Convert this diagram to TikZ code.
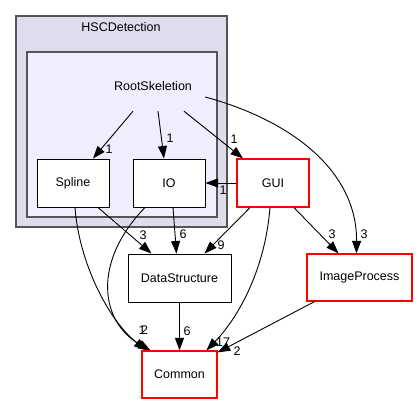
\documentclass[tikz,border=0pt]{standalone}
\usepackage{fontspec}
\setmainfont{Liberation Sans}
\usetikzlibrary{arrows.meta}
\definecolor{clouter}{HTML}{DDDDEE}
\definecolor{clinner}{HTML}{EEEEFF}
\definecolor{clborder}{HTML}{555555}
\begin{document}
\begin{tikzpicture}[x=1pt,y=-1pt,
  every node/.style={font=\fontsize{12.5pt}{14pt}\selectfont},
  dirbox/.style={draw=black,line width=1pt,fill=white,minimum width=72pt,minimum height=48pt,inner sep=1pt},
  extbox/.style={draw=red,line width=1.2pt,fill=white,inner sep=1pt},
  elabel/.style={inner sep=0pt},
  arr/.style={draw=black,line width=0.9pt,-{Triangle[length=12.5pt,width=9pt]}}]
\useasboundingbox (0,0) rectangle (418,404);
% clusters
\draw[clborder,line width=1.3pt,fill=clouter] (16,16) rectangle (227,227);
\node (hsc) at (121,27) {HSCDetection};
\draw[clborder,line width=1.3pt,fill=clinner] (27,52) rectangle (217,217);
\node[minimum width=104pt,minimum height=50pt,inner sep=0pt] (rs) at (153,86) {RootSkeletion};
% nodes
\node[dirbox] (spline) at (73,183) {Spline};
\node[dirbox] (io) at (169,183) {IO};
\node[extbox,minimum width=72pt,minimum height=48pt] (gui) at (273,183) {GUI};
\node[dirbox,minimum width=103pt] (ds) at (179.5,278) {DataStructure};
\node[extbox,minimum width=105pt,minimum height=47pt] (imgp) at (359.5,277.5) {ImageProcess};
\node[extbox,minimum width=75pt,minimum height=47pt] (common) at (179.5,374.5) {Common};
% edges
\draw[arr] ([xshift=-20pt]rs.south) -- ([xshift=20pt]spline.north);
\node[elabel] at (109,149) {1};
\draw[arr] ([xshift=5pt]rs.south) -- ([xshift=-5pt]io.north);
\node[elabel] at (170,138) {1};
\draw[arr] ([xshift=31pt]rs.south) -- ([xshift=-30pt]gui.north);
\node[elabel] at (234,139) {1};
\draw[arr] ([yshift=-11pt]rs.east) .. controls (290,120) and (357,170) .. ([xshift=-3pt]imgp.north);
\node[elabel] at (364,234) {3};
\draw[arr] (gui.west) -- (io.east);
\node[elabel] at (223,190) {1};
\draw[arr] ([xshift=25pt]spline.south) -- ([xshift=-28pt]ds.north);
\node[elabel] at (143,235) {3};
\draw[arr] ([xshift=4pt]io.south) -- ([xshift=-3pt]ds.north);
\node[elabel] at (183,234) {6};
\draw[arr] ([xshift=-23pt]gui.south) -- ([xshift=25pt]ds.north);
\node[elabel] at (221,245) {9};
\draw[arr] ([xshift=21pt]gui.south) -- ([xshift=-21pt]imgp.north);
\node[elabel] at (332,234) {3};
\draw[arr] ([xshift=2pt]spline.south) .. controls (79,262) and (108,320) .. ([xshift=-33pt]common.north);
\draw[arr] ([xshift=-24pt]io.south) .. controls (92,262) and (100,322) .. ([xshift=-29pt]common.north);
\node[elabel] at (142,330) {1};
\node[elabel] at (144.5,330) {2};
\draw[arr] (ds.south) -- (common.north);
\node[elabel] at (187,331) {6};
\draw[arr] ([xshift=-3pt]gui.south) .. controls (265,270) and (238,318) .. ([xshift=27pt]common.north);
\node[elabel] at (223,342) {17};
\draw[arr] ([xshift=-45pt]imgp.south) -- ([yshift=-2pt]common.north east);
\node[elabel] at (237,351) {2};
\end{tikzpicture}
\end{document}
